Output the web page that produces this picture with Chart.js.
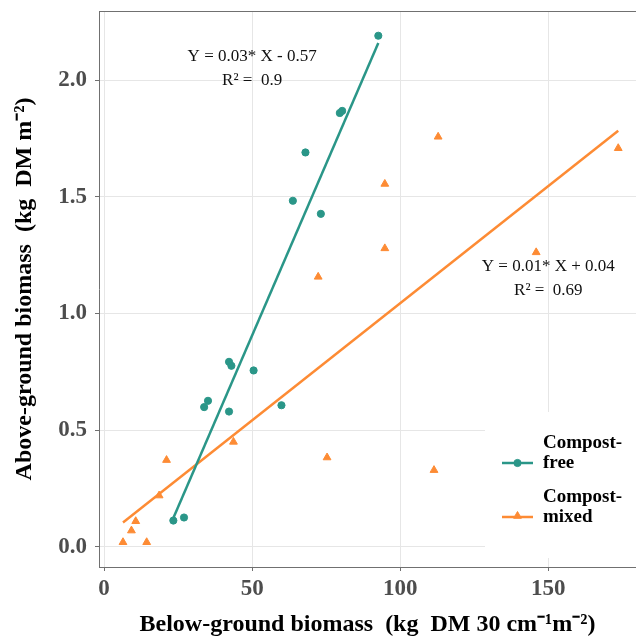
<!DOCTYPE html>
<html>
<head>
<meta charset="utf-8">
<script src="https://cdn.jsdelivr.net/npm/chart.js@4.4.1/dist/chart.umd.min.js"></script>
<style>
  html, body { margin: 0; padding: 0; background: #fff; overflow: hidden; }
  canvas { display: block; }
</style>
</head>
<body>
<canvas id="chart" width="636" height="636"></canvas>
<script>
// compost-free plots (below-ground vs above-ground biomass)
const freeX = [92.6, 79.6, 80.4, 68.0, 63.75, 73.2, 42.2, 43.0, 50.5, 35.1, 33.8, 42.2, 59.9, 23.4, 27.0];
const freeY = [2.19, 1.859, 1.868, 1.69, 1.483, 1.427, 0.793, 0.776, 0.756, 0.626, 0.599, 0.580, 0.607, 0.113, 0.126];
// compost-mixed plots
const mixedX = [173.6, 112.8, 94.8, 94.8, 72.3, 145.9, 43.7, 75.3, 111.4, 21.1, 18.6, 10.7, 9.25, 6.4, 14.4];
const mixedY = [1.708, 1.757, 1.555, 1.279, 1.157, 1.262, 0.45, 0.383, 0.329, 0.372, 0.22, 0.11, 0.07, 0.02, 0.02];

const xTicks = [0, 50, 100, 150];
const yTicks = [0, 0.5, 1, 1.5, 2];
const yTickLabels = ['0.0', '0.5', '1.0', '1.5', '2.0'];

// regression labels
const eqText = ['Y = 0.03* X - 0.57', 'Y = 0.01* X + 0.04'];
const r2Text = ['R\u00b2 =  0.9', 'R\u00b2 =  0.69'];
const eqX = [50, 150];
const eqY = [2.1, 1.2];
const r2Y = [2.0, 1.1];

const seriesNames = [['Compost-', 'free'], ['Compost-', 'mixed']];

const TEAL = '#2a9688';
const ORANGE = '#fd8b34';
const SERIF = "'Liberation Serif', 'Times New Roman', serif";

function pts(xs, ys) {
  return xs.map((x, i) => ({x: x, y: ys[i]}));
}

// least squares line over the range of the data
function fitLine(xs, ys) {
  const n = xs.length;
  const mx = xs.reduce((a, b) => a + b, 0) / n;
  const my = ys.reduce((a, b) => a + b, 0) / n;
  let sxy = 0, sxx = 0;
  for (let i = 0; i < n; i++) {
    sxy += (xs[i] - mx) * (ys[i] - my);
    sxx += (xs[i] - mx) * (xs[i] - mx);
  }
  const b = sxy / sxx, a = my - b * mx;
  const lo = Math.min(...xs), hi = Math.max(...xs);
  return [{x: lo, y: a + b * lo}, {x: hi, y: a + b * hi}];
}

// no extra room for tick labels, the panel is fixed
function noPad(s) {
  s.paddingTop = 0; s.paddingBottom = 0; s.paddingLeft = 0; s.paddingRight = 0;
}

const labelPlugin = {
  id: 'labels',
  afterDatasetsDraw(chart) {
    const ctx = chart.ctx, xs = chart.scales.x, ys = chart.scales.y;
    ctx.save();
    ctx.fillStyle = '#111';
    ctx.font = '17px ' + SERIF;
    ctx.textAlign = 'center';
    ctx.textBaseline = 'middle';
    for (let i = 0; i < eqText.length; i++) {
      ctx.fillText(eqText[i], xs.getPixelForValue(eqX[i]), ys.getPixelForValue(eqY[i]));
      ctx.fillText(r2Text[i], xs.getPixelForValue(eqX[i]), ys.getPixelForValue(r2Y[i]));
    }
    ctx.restore();
  },
  afterDraw(chart) {
    // legend sits inside the panel, bottom right
    const ctx = chart.ctx, area = chart.chartArea;
    const bx = 485, by = 412;
    ctx.save();
    ctx.fillStyle = '#fff';
    ctx.fillRect(bx, by, area.right - bx, area.bottom - by - 9);
    const colors = [TEAL, ORANGE];
    const styles = ['circle', 'triangle'];
    const keyY = [463, 517];
    for (let i = 0; i < 2; i++) {
      ctx.strokeStyle = colors[i];
      ctx.lineWidth = 2.5;
      ctx.beginPath();
      ctx.moveTo(502, keyY[i]);
      ctx.lineTo(533, keyY[i]);
      ctx.stroke();
      ctx.fillStyle = colors[i];
      ctx.strokeStyle = colors[i];
      ctx.lineWidth = 1;
      Chart.helpers.drawPoint(ctx, {pointStyle: styles[i], radius: i ? 4.5 : 3.6, rotation: 0, borderWidth: 1}, 517.5, keyY[i] - (i ? 1 : 0));
      ctx.fillStyle = '#000';
      ctx.font = 'bold 19px ' + SERIF;
      ctx.textAlign = 'left';
      ctx.textBaseline = 'middle';
      ctx.fillText(seriesNames[i][0], 543, keyY[i] - 20);
      ctx.fillText(seriesNames[i][1], 543, keyY[i]);
    }
    ctx.restore();
  }
};

const ctx = document.getElementById('chart').getContext('2d');
new Chart(ctx, {
  type: 'scatter',
  data: {
    datasets: [
      {
        label: 'Compost-free',
        data: pts(freeX, freeY),
        pointStyle: 'circle',
        pointRadius: 3.6,
        backgroundColor: TEAL,
        borderColor: TEAL,
        borderWidth: 1
      },
      {
        label: 'Compost-mixed',
        data: pts(mixedX, mixedY),
        pointStyle: 'triangle',
        pointRadius: 4.5,
        backgroundColor: ORANGE,
        borderColor: ORANGE,
        borderWidth: 1
      },
      {
        label: 'fit free',
        data: fitLine(freeX, freeY),
        showLine: true,
        pointRadius: 0,
        borderColor: TEAL,
        borderWidth: 2.5
      },
      {
        label: 'fit mixed',
        data: fitLine(mixedX, mixedY),
        showLine: true,
        pointRadius: 0,
        borderColor: ORANGE,
        borderWidth: 2.5
      }
    ]
  },
  options: {
    responsive: false,
    animation: false,
    layout: {padding: 0, autoPadding: false},
    plugins: {legend: {display: false}, tooltip: {enabled: false}},
    scales: {
      x: {
        type: 'linear',
        position: 'bottom',
        min: -1.7,
        max: 179.6,
        afterBuildTicks: s => { s.ticks = xTicks.map(v => ({value: v})); },
        afterFit: s => { s.height = 69; noPad(s); },
        grid: {color: '#e6e6e6', lineWidth: 1, tickColor: '#707070', tickLength: 4},
        border: {display: true, color: '#707070', width: 1},
        ticks: {
          color: '#4d4d4d',
          padding: 4,
          font: {family: SERIF, size: 23, weight: 'bold'}
        },
        title: {
          display: true,
          text: 'Below-ground biomass  (kg  DM 30 cm\u207b\u00b9m\u207b\u00b2)',
          color: '#000',
          padding: {top: 0, bottom: -3},
          font: {family: SERIF, size: 24, weight: 'bold'}
        }
      },
      top: {
        type: 'linear',
        position: 'top',
        min: -1.7,
        max: 179.6,
        afterFit: s => { s.height = 11; noPad(s); },
        grid: {display: false},
        border: {display: true, color: '#707070', width: 1},
        ticks: {display: false}
      },
      y: {
        type: 'linear',
        position: 'left',
        min: -0.086,
        max: 2.296,
        afterBuildTicks: s => { s.ticks = yTicks.map(v => ({value: v})); },
        afterFit: s => { s.width = 99; noPad(s); },
        grid: {color: '#e6e6e6', lineWidth: 1, tickColor: '#707070', tickLength: 4},
        border: {display: true, color: '#707070', width: 1},
        ticks: {
          color: '#4d4d4d',
          padding: 8,
          font: {family: SERIF, size: 23, weight: 'bold'},
          callback: (v) => yTickLabels[yTicks.indexOf(v)]
        },
        title: {
          display: true,
          text: 'Above-ground biomass  (kg  DM m\u207b\u00b2)',
          color: '#000',
          padding: {top: 10, bottom: 0},
          font: {family: SERIF, size: 24, weight: 'bold'}
        }
      }
    }
  },
  plugins: [labelPlugin]
});
</script>
</body>
</html>
